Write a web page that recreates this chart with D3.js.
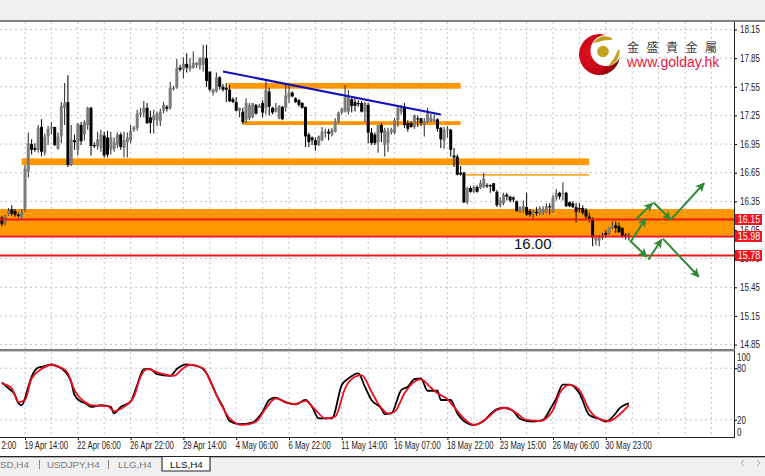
<!DOCTYPE html>
<html><head><meta charset="utf-8">
<script src="https://cdnjs.cloudflare.com/ajax/libs/d3/7.8.5/d3.min.js"></script>
<style>html,body{margin:0;padding:0;background:#fff}svg{display:block}</style>
</head><body><svg id="c" width="765" height="476"></svg>
<script>
const opens=[16.18,16.13,16.21,16.27,16.25,16.21,16.18,16.26,16.66,16.95,
16.91,16.89,17.13,16.86,17.03,17.11,17.13,16.90,17.03,17.33,
17.39,16.73,16.99,16.89,17.15,17.05,17.15,17.33,16.94,16.93,
16.91,17.04,17.02,16.89,16.90,16.94,17.05,16.91,16.97,16.99,
17.10,17.12,17.26,17.28,17.33,17.23,17.20,17.20,17.19,17.30,
17.34,17.33,17.53,17.54,17.75,17.73,17.79,17.74,17.75,17.78,
17.77,17.78,17.85,17.71,17.49,17.50,17.65,17.55,17.54,17.52,
17.42,17.39,17.30,17.29,17.20,17.22,17.23,17.36,17.33,17.38,
17.33,17.50,17.33,17.29,17.22,17.34,17.33,17.44,17.49,17.43,
17.41,17.38,17.34,17.05,17.02,16.99,16.94,16.99,17.07,17.08,
17.05,17.08,17.18,17.28,17.29,17.29,17.42,17.39,17.38,17.38,
17.29,17.36,17.07,17.05,16.97,17.15,16.94,16.96,17.07,17.07,
17.20,17.29,17.33,17.17,17.17,17.13,17.22,17.22,17.15,17.18,
17.19,17.19,17.21,17.12,16.99,17.10,17.10,16.83,16.82,16.65,
16.65,16.34,16.49,16.45,16.50,16.49,16.50,16.52,16.52,16.54,
16.45,16.31,16.33,16.42,16.40,16.39,16.35,16.25,16.26,16.29,
16.25,16.22,16.24,16.23,16.23,16.23,16.30,16.24,16.39,16.44,
16.43,16.44,16.34,16.33,16.29,16.28,16.28,16.26,16.19,16.17,
15.94,15.94,15.99,16.02,16.02,16.08,16.10,16.09,16.07,16.00,15.99];
const highs=[16.20,16.21,16.28,16.31,16.27,16.23,16.27,16.73,17.07,17.00,
16.96,17.15,17.21,17.06,17.14,17.18,17.13,17.07,17.39,17.59,
17.67,17.15,17.05,17.17,17.18,17.20,17.34,17.34,16.97,17.08,
17.10,17.08,17.09,17.08,17.02,17.07,17.07,17.08,17.07,17.15,
17.14,17.31,17.33,17.40,17.38,17.30,17.31,17.29,17.32,17.39,
17.36,17.60,17.56,17.84,17.78,17.86,17.90,17.85,17.92,17.81,
17.86,17.99,17.99,17.71,17.53,17.70,17.66,17.58,17.59,17.57,
17.44,17.44,17.33,17.33,17.43,17.38,17.38,17.37,17.37,17.41,
17.63,17.54,17.34,17.38,17.36,17.35,17.57,17.58,17.50,17.44,
17.42,17.39,17.34,17.07,17.03,17.02,17.04,17.13,17.11,17.11,
17.12,17.22,17.29,17.33,17.57,17.52,17.43,17.43,17.41,17.40,
17.39,17.38,17.12,17.07,17.15,17.17,17.12,17.12,17.12,17.22,
17.34,17.36,17.38,17.20,17.19,17.26,17.25,17.22,17.22,17.33,
17.27,17.26,17.22,17.13,17.13,17.14,17.11,16.91,16.84,16.72,
16.66,16.50,16.51,16.52,16.52,16.57,16.65,16.54,16.53,16.54,
16.47,16.39,16.44,16.44,16.41,16.40,16.36,16.30,16.36,16.44,
16.27,16.26,16.29,16.30,16.30,16.33,16.33,16.42,16.48,16.45,
16.55,16.45,16.35,16.35,16.33,16.33,16.31,16.28,16.23,16.18,
16.00,16.00,16.02,16.05,16.08,16.14,16.14,16.13,16.08,16.02,16.02];
const lows=[16.09,16.10,16.20,16.20,16.19,16.18,16.17,16.24,16.60,16.84,
16.87,16.86,16.82,16.83,16.94,17.05,16.93,16.89,16.96,17.15,
16.71,16.72,16.89,16.83,16.94,16.99,17.10,16.83,16.91,16.89,
16.87,16.81,16.81,16.84,16.87,16.91,16.89,16.81,16.81,16.96,
17.08,17.09,17.23,17.23,17.16,17.06,17.06,17.14,17.14,17.27,
17.29,17.31,17.51,17.53,17.71,17.64,17.70,17.71,17.74,17.75,
17.73,17.71,17.55,17.50,17.46,17.49,17.52,17.50,17.39,17.39,
17.38,17.29,17.23,17.16,17.17,17.20,17.22,17.26,17.33,17.23,
17.26,17.25,17.26,17.28,17.21,17.20,17.29,17.38,17.44,17.38,
17.34,17.32,16.92,16.92,16.94,16.88,16.93,16.98,17.02,16.99,
17.03,17.07,17.17,17.26,17.28,17.26,17.28,17.29,17.34,17.28,
17.18,16.96,16.94,16.94,16.86,16.97,16.82,16.87,17.05,17.05,
17.13,17.26,17.12,17.08,17.12,17.11,17.13,17.14,17.03,17.17,
17.18,17.18,17.08,16.91,16.90,17.02,16.82,16.71,16.62,16.62,
16.33,16.32,16.44,16.44,16.44,16.48,16.49,16.49,16.44,16.45,
16.29,16.29,16.31,16.36,16.34,16.34,16.24,16.23,16.23,16.20,
16.19,16.16,16.20,16.21,16.21,16.23,16.21,16.23,16.36,16.37,
16.36,16.29,16.29,16.28,16.13,16.23,16.21,16.16,16.13,15.88,
15.89,15.88,15.95,15.97,16.00,16.06,16.02,16.02,15.97,15.95,15.94];
const closes=[16.11,16.19,16.25,16.22,16.21,16.20,16.24,16.69,16.96,16.89,
16.89,17.12,16.87,17.03,17.11,17.13,16.94,17.03,17.35,17.38,
16.73,17.00,16.97,17.16,16.98,17.18,17.33,16.93,16.93,17.00,
17.05,16.83,16.84,17.02,16.97,17.05,16.92,16.99,17.02,17.09,
17.12,17.27,17.28,17.33,17.17,17.17,17.25,17.27,17.29,17.36,
17.32,17.54,17.54,17.75,17.73,17.79,17.75,17.77,17.80,17.80,
17.85,17.86,17.61,17.52,17.52,17.65,17.55,17.52,17.52,17.40,
17.39,17.30,17.33,17.18,17.38,17.36,17.38,17.27,17.35,17.28,
17.52,17.34,17.28,17.33,17.35,17.21,17.46,17.49,17.45,17.39,
17.36,17.33,17.03,16.97,16.99,16.94,17.03,17.08,17.08,17.06,
17.10,17.18,17.28,17.32,17.44,17.44,17.35,17.35,17.37,17.29,
17.38,17.07,16.96,16.96,17.15,17.07,17.10,17.08,17.10,17.20,
17.33,17.33,17.15,17.11,17.13,17.25,17.21,17.17,17.19,17.27,
17.23,17.21,17.11,17.00,17.10,17.11,16.89,16.81,16.63,16.63,
16.34,16.49,16.45,16.50,16.45,16.54,16.59,16.51,16.51,16.46,
16.31,16.36,16.42,16.40,16.36,16.37,16.25,16.29,16.30,16.21,
16.21,16.25,16.23,16.28,16.26,16.30,16.29,16.39,16.44,16.40,
16.44,16.30,16.30,16.29,16.24,16.27,16.23,16.19,16.16,15.97,
15.97,15.98,15.98,16.00,16.08,16.10,16.07,16.03,15.98,15.98,15.98];

const kBars=[0,2,4,5,6,8,9,11,12,15,17,19,21,22,24,25,27,30,33,34,36,39,41,43,45,47,51,53,56,60,62,65,67,69,72,76,79,81,83,86,89,92,94,96,100,103,105,108,110,112,115,116,118,121,123,125,127,129,132,133,136,138,140,143,146,149,152,155,157,161,164,166,168,170,172,175,178,181,183,186,187,190];
const kVals=[63.6,56.6,48.8,39,37,58.5,70,80.6,81.4,84.5,81.8,76.7,64,49,41,40,35,37,35,27.5,35,41,60.5,79,79,73,71,79,84.5,81.4,74,49,35,18.6,14.8,17,29.4,43,45.7,40.3,38,43,35,21.7,21.7,60.5,68,74,58.5,43,33,26.7,27.5,54.6,58.5,67.4,68,53.8,53.8,43,43,27.5,18.6,14,18.6,30,34,30,21,17.8,19.8,31.4,45,61,61,50.8,25.6,21,17.8,27.5,32.6,39];
const dBars=[0,3,5,7,9,12,15,18,20,22,25,28,32,34,37,40,42,44,48,52,55,57,61,63,66,69,73,77,80,83,86,89,92,95,98,101,104,107,109,112,114,117,119,122,124,127,130,132,135,137,140,143,147,150,153,156,159,163,167,169,172,175,178,181,184,187,190];
const dVals=[62.4,56.6,40.6,43,68,79,83.7,80.6,74,54.6,41,36.4,36,30,35,47,70,79,74,71,80,84,80,66,41,21.7,14,17.8,33.4,45,40.6,38.4,42,31.4,21.7,23.6,56.6,70,72,52.7,39,27.5,29.4,50.8,61,67,57.3,50.8,44,35,21.7,14,21.7,31.4,34,27.5,19.8,18.6,31.4,50.8,60.5,54.6,31.4,21,18.6,25.6,37];

const priceTicks=[18.15,17.85,17.55,17.25,16.95,16.65,16.35,16.05,15.75,15.45,15.15,14.85];
const oscTicks=[100,80,20,0];
const dateBars=[0,7,23,39,55,71,87,103,119,135,151,167,183];
const dateLabels=["2:00","19 Apr 14:00","22 Apr 06:00","26 Apr 22:00","29 Apr 14:00","4 May 06:00","6 May 22:00","11 May 14:00","16 May 07:00","18 May 22:00","23 May 15:00","26 May 06:00","30 May 23:00"];
const gridBars=d3.range(7,216,8);

const zoneTop=16.27, zoneBottom=15.99;
const bandStart=[6,68.5,73,140.5];
const bandEnd=[178,139,139,178];
const bandHi=[16.80,17.59,17.19,16.635];
const bandLo=[16.73,17.53,17.15,16.62];
const redLevels=[16.15,15.98,15.78];
const trendBars=[67,133], trendPrices=[17.71,17.26];
const arrowFromBar=[190.3,195.9,200.3,190.6,192.1,197.4,203];
const arrowFromPrice=[15.94,15.74,15.96,15.93,16.16,16.34,16.17];
const arrowToBar=[195.4,199.9,211.2,195.1,197.1,202.7,212.8];
const arrowToPrice=[15.77,15.95,15.56,16.17,16.33,16.16,16.54];
const tabs=["SD,H4","USDJPY,H4","LLG,H4"];

const W=765,H=476,right=734,mainTop=22,mainBottom=349,oscTop=351,oscBottom=437;
const svg=d3.select("#c");
const x=d3.scaleLinear().domain([0,191]).range([1.9,632.2]);
const y=d3.scaleLinear().domain([18.15,14.85]).range([29.5,344.6]);
const yo=d3.scaleLinear().domain([0,100]).range([oscBottom,oscTop]);
const FONT='"Liberation Sans",Arial,sans-serif';

const defs=svg.append("defs");
defs.append("clipPath").attr("id","mainClip").append("rect").attr("x",0).attr("y",mainTop).attr("width",right).attr("height",mainBottom-mainTop);
defs.append("clipPath").attr("id","oscClip").append("rect").attr("x",0).attr("y",oscTop).attr("width",right).attr("height",oscBottom-oscTop);
const rg=defs.append("radialGradient").attr("id","logoRed").attr("cx","0.3").attr("cy","0.45").attr("r","0.75");
rg.append("stop").attr("offset","0").attr("stop-color","#e01020");
rg.append("stop").attr("offset","0.65").attr("stop-color","#c00818");
rg.append("stop").attr("offset","1").attr("stop-color","#6e0408");
defs.append("marker").attr("id","head").attr("viewBox","0 0 10 10").attr("refX",9).attr("refY",5)
 .attr("markerWidth",4.6).attr("markerHeight",4.6).attr("orient","auto")
 .append("path").attr("d","M0,0L10,5L0,10L2.5,5Z").attr("fill","#2f8a35");

// chrome
svg.append("rect").attr("width",W).attr("height",20).attr("fill","#f0f0f0");
svg.append("rect").attr("y",20).attr("width",W).attr("height",2).attr("fill","#808080");
svg.append("rect").attr("y",457).attr("width",W).attr("height",19).attr("fill","#f0f0f0");
svg.append("rect").attr("y",456).attr("width",W).attr("height",1.3).attr("fill","#222");

// grid
const grid=svg.append("g").attr("stroke","#c4c4c4").attr("stroke-dasharray","2 3").attr("fill","none");
grid.selectAll("line.v").data(gridBars).join("line").attr("class","v")
 .attr("x1",d=>x(d)).attr("x2",d=>x(d)).attr("y1",mainTop).attr("y2",oscBottom);
grid.selectAll("line.h").data(priceTicks).join("line").attr("class","h")
 .attr("x1",0).attr("x2",right).attr("y1",d=>y(d)).attr("y2",d=>y(d));
grid.selectAll("line.o").data([80,20]).join("line").attr("class","o")
 .attr("x1",0).attr("x2",right).attr("y1",d=>yo(d)).attr("y2",d=>yo(d));

const main=svg.append("g").attr("clip-path","url(#mainClip)");
main.append("rect").attr("x",0).attr("width",right).attr("y",y(zoneTop)).attr("height",y(zoneBottom)-y(zoneTop)).attr("fill","#ff9700");
main.selectAll("rect.band").data(bandStart).join("rect").attr("class","band")
 .attr("x",d=>x(d)).attr("width",(d,i)=>x(bandEnd[i])-x(d))
 .attr("y",(d,i)=>y(bandHi[i])).attr("height",(d,i)=>y(bandLo[i])-y(bandHi[i])).attr("fill","#ff9700");

// candles
const idx=d3.range(opens.length);
main.selectAll("line.wick").data(idx).join("line").attr("class","wick")
 .attr("x1",i=>x(i)).attr("x2",i=>x(i)).attr("y1",i=>y(highs[i])).attr("y2",i=>y(lows[i]))
 .attr("stroke",i=>closes[i]>=opens[i]?"#3a3a3a":"#111").attr("stroke-width",1.1);
main.selectAll("rect.body").data(idx).join("rect").attr("class","body")
 .attr("x",i=>x(i)-1.5).attr("width",3)
 .attr("y",i=>y(Math.max(opens[i],closes[i])))
 .attr("height",i=>Math.max(1.2,Math.abs(y(opens[i])-y(closes[i]))))
 .attr("fill",i=>closes[i]>=opens[i]?"#7c7c7c":"#050505");

// levels
main.selectAll("line.red").data(redLevels).join("line").attr("class","red")
 .attr("x1",0).attr("x2",right).attr("y1",d=>Math.round(y(d))-0.5).attr("y2",d=>Math.round(y(d))-0.5)
 .attr("stroke","#f01818").attr("stroke-width",2);
main.append("line").attr("x1",x(trendBars[0])).attr("x2",x(trendBars[1])).attr("y1",y(trendPrices[0])).attr("y2",y(trendPrices[1]))
 .attr("stroke","#1010b8").attr("stroke-width",2);
main.selectAll("line.arrow").data(arrowFromBar).join("line").attr("class","arrow")
 .attr("x1",d=>x(d)).attr("y1",(d,i)=>y(arrowFromPrice[i]))
 .attr("x2",(d,i)=>x(arrowToBar[i])).attr("y2",(d,i)=>y(arrowToPrice[i]))
 .attr("stroke","#2f8a35").attr("stroke-width",2).attr("marker-end","url(#head)");
main.append("text").attr("x",514).attr("y",248.5).attr("font-family",FONT).attr("font-size",15).attr("fill","#111").text("16.00");

// oscillator
const osc=svg.append("g").attr("clip-path","url(#oscClip)");
const curve=d3.line().x(d=>x(d[0])).y(d=>yo(d[1])).curve(d3.curveMonotoneX);
osc.append("path").attr("d",curve(d3.zip(kBars,kVals))).attr("fill","none").attr("stroke","#000").attr("stroke-width",1.8);
osc.append("path").attr("d",curve(d3.zip(dBars,dVals))).attr("fill","none").attr("stroke","#f00c1c").attr("stroke-width",1.8);

// frames
svg.append("rect").attr("x",0).attr("y",349).attr("width",right+1).attr("height",2.4).attr("fill","#808080");

// price axis
const ay=svg.append("g").attr("transform",`translate(${right},0)`)
 .call(d3.axisRight(y).tickValues(priceTicks).tickSize(3).tickPadding(3).tickFormat(d3.format(".2f")));
ay.select(".domain").attr("d",`M0.5,${mainTop}V${mainBottom}`).attr("stroke","#222");
ay.selectAll("text").attr("font-family",FONT).attr("font-size",10).attr("fill","#222").attr("text-anchor","start");
ay.selectAll("text").attr("transform","translate(6,0) scale(0.8,1)").attr("x",0);
// osc axis
const ao=svg.append("g").attr("transform",`translate(${right},0)`)
 .call(d3.axisRight(yo).tickValues(oscTicks).tickSize(3).tickPadding(3));
ao.select(".domain").attr("d",`M0.5,${oscTop}V${oscBottom}`).attr("stroke","#222");
ao.selectAll(".tick").filter(d=>d===100||d===0).select("line").remove();
ao.selectAll("text").attr("font-family",FONT).attr("font-size",10).attr("fill","#222")
 .attr("transform",d=>`translate(3,${d===100?6:d===0?-5:0}) scale(0.8,1)`).attr("x",0);
// date axis
const ax=svg.append("g").attr("transform",`translate(0,${oscBottom})`)
 .call(d3.axisBottom(x).tickValues(dateBars).tickSize(3).tickFormat((d,i)=>dateLabels[i]));
ax.select(".domain").attr("d",`M0,0.5H${right+1}`).attr("stroke","#222");
ax.selectAll(".tick").filter(d=>d===0).select("line").remove();
ax.selectAll("text").attr("font-family",FONT).attr("font-size",10).attr("fill","#222").attr("text-anchor","start")
 .attr("y",0).attr("dy",0).attr("transform","translate(-1,12) scale(0.77,1)");

// red price tags
const tag=svg.append("g").selectAll("g").data(redLevels).join("g").attr("transform",d=>`translate(735,${Math.round(y(d))-0.5})`);
tag.append("rect").attr("x",0).attr("y",-5.5).attr("width",27).attr("height",11).attr("fill","#f0141e");
tag.append("text").attr("x",3).attr("y",3.5).attr("font-family",FONT).attr("font-size",10).attr("fill","#fff")
 .attr("transform","scale(0.9,1)").text(d=>d.toFixed(2));

// logo
const logo=svg.append("g");
logo.append("circle").attr("cx",599.5).attr("cy",54.5).attr("r",20.5).attr("fill","url(#logoRed)");
logo.append("circle").attr("cx",606).attr("cy",50.5).attr("r",15.5).attr("fill","#fff");
logo.append("circle").attr("cx",603).attr("cy",51.5).attr("r",5.8).attr("fill","#c2a020");
logo.append("path").attr("d","M595,42Q602,34 612,39Q604,39 595,42Z").attr("fill","#c2a020").attr("stroke","#c2a020").attr("stroke-width",1.5);
logo.append("path").attr("d","M610,65Q619,61 619,50Q615,59 610,65Z").attr("fill","#c2a020").attr("stroke","#c2a020").attr("stroke-width",1.5);
logo.append("text").attr("x",627).attr("y",51.5).attr("font-family",'"Noto Sans CJK TC"').attr("font-size",12).attr("fill","#3a3a3a").attr("letter-spacing","7.5px").text("金盛貴金屬");
logo.append("text").attr("x",627).attr("y",66.5).attr("font-family",FONT).attr("font-size",14).attr("fill","#e8143c").text("www.golday.hk");

// tabs
const tabX=[0,47,118];
svg.selectAll("text.tab").data(tabs).join("text").attr("class","tab")
 .attr("x",(d,i)=>tabX[i]).attr("y",468).attr("font-family",FONT).attr("font-size",9.8).attr("fill","#7a7a7a").text(d=>d);
svg.selectAll("rect.sep").data([39,108]).join("rect").attr("class","sep")
 .attr("x",d=>d).attr("y",460).attr("width",1).attr("height",9).attr("fill","#888");
svg.append("path").attr("d","M162,457V471H210V457").attr("fill","#fff").attr("stroke","#222").attr("stroke-width",1.1);
svg.append("text").attr("x",170).attr("y",468).attr("font-family",FONT).attr("font-size",9.8).attr("fill","#111").text("LLS,H4");
svg.append("path").attr("d","M744,460L741,463L744,466").attr("fill","none").attr("stroke","#aaa");
svg.append("path").attr("d","M757,460L760,463L757,466").attr("fill","none").attr("stroke","#aaa");
</script></body></html>
